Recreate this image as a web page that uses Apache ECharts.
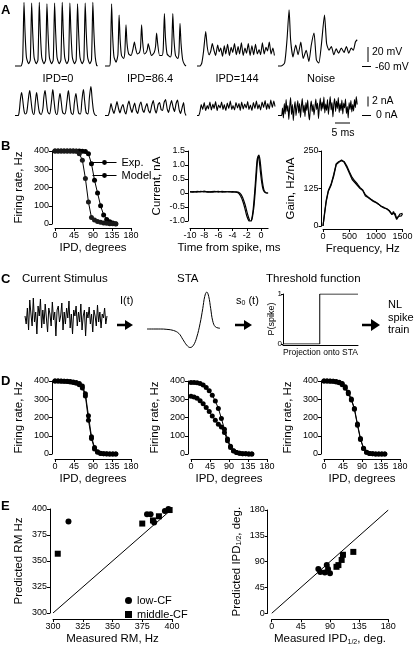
<!DOCTYPE html>
<html><head><meta charset="utf-8">
<script src="https://cdn.jsdelivr.net/npm/echarts@6/dist/echarts.min.js"></script>
<style>html,body{margin:0;padding:0;background:#fff}#c{width:416px;height:648px}</style>
</head><body><div id="c"></div><script>
// ---------- Panel A: example traces (time ms, mV / nA) ----------
const vmIPD0 = [[0,-60],[2.0,-60],[2.55,-52],[3.0,25],[3.35,-15],[3.8,-48],[4.5,-57],
 [5.1,-52],[5.55,24],[5.9,-15],[6.35,-48],[7.05,-57],
 [7.65,-52],[8.1,25],[8.45,-15],[8.9,-48],[9.6,-57],
 [10.2,-52],[10.65,23],[11.0,-15],[11.45,-48],[12.15,-57],
 [12.75,-52],[13.2,24],[13.55,-15],[14.0,-48],[14.7,-57],
 [15.3,-52],[15.75,25],[16.1,-15],[16.55,-48],[17.25,-57],
 [17.85,-52],[18.3,24],[18.65,-15],[19.1,-48],[19.8,-57],
 [20.4,-52],[20.85,23],[21.2,-15],[21.65,-48],[22.35,-57],
 [22.95,-52],[23.4,24],[23.75,-15],[24.2,-48],[24.9,-57],
 [25.5,-52],[25.95,25],[26.3,-15],[26.75,-48],[27.2,-59],[27.5,-60]];
const vmIPD86 = [[0,-60],[1.5,-60],[1.8,-52],[2.2,23],[2.55,-20],[3.0,-48],[3.7,-55],
 [4.3,-45],[4.7,8],[5.05,-25],[5.5,-46],[6.2,-50],
 [6.6,-42],[7.0,-5],[7.35,-30],[7.9,-44],[8.7,-46],
 [9.3,-38],[9.8,-28],[10.2,-36],[10.8,-44],[11.5,-42],
 [11.85,-35],[12.2,-5],[12.55,-28],[13.1,-44],[13.7,-42],
 [14.1,-38],[14.4,-30],[14.8,-36],[15.5,-46],[16.4,-42],
 [16.85,-34],[17.2,-16],[17.55,-30],[18.2,-46],[19.0,-46],
 [19.4,-38],[19.8,10],[20.15,-22],[20.7,-44],[21.8,-48],
 [22.2,-40],[22.6,10],[22.95,-22],[23.5,-46],[24.3,-50],
 [24.65,-42],[25.0,-3],[25.35,-30],[25.9,-52],[26.5,-58],[27.0,-60]];
const vmIPD144 = [[0,-60],[1.0,-60],[1.6,-56],[2.2,-40],[2.9,-14],[3.4,-34],[4.0,-45],[4.6,-40],[5.1,-30],[5.6,-38],[6.2,-46],[6.9,-32],[7.4,-41],[7.9,-36],[8.5,-47],[9.1,-33],[9.6,-44],[10.2,-31],[10.8,-46],[11.4,-35],[11.9,-42],[12.5,-30],[13.1,-45],[13.7,-34],[14.2,-44],[14.8,-29],[15.4,-46],[16.0,-36],[16.5,-43],[17.1,-30],[17.7,-46],[18.3,-33],[18.9,-45],[19.5,-31],[20.1,-44],[20.7,-38],[21.2,-45],[21.8,-29],[22.4,-44],[23.0,-35],[23.5,-40],[24.1,-28],[24.7,-44],[25.3,-36],[25.8,-46]];
const vmNoise = [[0,-60],[1.0,-60],[2.2,-56],[3.0,-25],[3.7,15],[4.2,-25],[5.0,-48],[5.9,-32],[6.7,-45],[7.6,-28],[8.4,-50],[9.4,-39],[10.3,-54],[11.1,-32],[12.0,-16],[12.8,-52],[13.6,-56],[14.4,-34],[15.5,8],[16.2,-30],[17.0,-39],[17.8,-34],[18.6,-45],[19.4,-37],[20.2,-43],[21.1,-36],[22.0,-42],[22.8,-34],[23.6,-43],[24.4,-36],[25.1,-39],[25.8,-28],[26.4,-25]];
const imIPD0 = [[0,0],[1.0,0],[1.4,0.8],[1.8,3.2],[2.2,4.6],[2.6,3.0],[3.0,1.0],[3.4,0.3],[3.9,0.6],[4.4,3.0],[4.9,5.0],[5.3,3.2],[5.8,0.8],[6.3,0.2],[6.8,2.8],[7.2,4.6],[7.6,2.8],[8.1,0.7],[8.7,0.2],[9.3,1.4],[9.6,3.6],[10.0,5.0],[10.4,3.2],[10.9,0.8],[11.5,0.3],[12.1,2.5],[12.6,5.2],[13.0,3.0],[13.5,0.6],[14.0,0.2],[14.6,3.0],[15.0,4.4],[15.4,2.8],[15.9,0.6],[16.6,0.3],[17.3,2.8],[17.8,5.0],[18.2,3.0],[18.7,0.6],[19.3,0.2],[19.8,2.6],[20.3,4.4],[20.7,2.6],[21.2,0.5],[21.8,0.3],[22.3,3.0],[22.8,5.2],[23.2,3.0],[23.7,0.6],[24.3,0.3],[24.8,3.6],[25.3,5.8],[25.7,3.4],[26.2,0.8],[26.7,0.1],[27.3,0]];
const imIPD86 = [[0,0],[1.0,0],[1.5,0.8],[2.0,2.4],[2.5,1.2],[3.0,0.4],[3.6,1.8],[4.0,2.8],[4.5,1.4],[5.0,0.5],[5.5,1.6],[6.0,2.2],[6.5,0.9],[7.0,0.3],[7.5,1.9],[8.0,2.9],[8.5,1.5],[9.0,0.6],[9.5,1.8],[9.9,2.5],[10.4,1.0],[10.9,0.4],[11.5,2.0],[12.0,2.7],[12.5,1.2],[13.0,0.6],[13.5,1.7],[14.0,2.4],[14.5,1.0],[15.0,0.5],[15.6,2.1],[16.1,3.0],[16.6,1.3],[17.1,0.5],[17.7,2.2],[18.2,2.6],[18.7,1.2],[19.2,1.0],[19.7,2.6],[20.2,3.2],[20.7,1.4],[21.2,0.6],[21.7,2.0],[22.2,3.0],[22.7,1.6],[23.2,0.8],[23.7,2.4],[24.2,3.1],[24.7,1.2],[25.2,0.4],[25.8,1.8],[26.2,2.6],[26.6,0.6],[27.0,0]];
const imIPD144 = [[0,0],[0.6,0],[1.0,0.8],[1.4,2.2],[1.9,1.2],[2.4,2.6],[2.9,1.0],[3.4,2.0],[3.8,1.3],[4.3,2.7],[4.8,1.1],[5.3,2.3],[5.7,1.4],[6.2,2.8],[6.7,1.0],[7.2,2.1],[7.7,1.5],[8.2,2.7],[8.7,1.2],[9.1,2.2],[9.6,1.0],[10.1,2.5],[10.6,1.4],[11.1,2.9],[11.6,1.2],[12.0,2.0],[12.5,1.1],[13.0,2.6],[13.5,1.5],[14.0,2.4],[14.4,1.0],[14.9,2.7],[15.4,1.3],[15.9,2.3],[16.4,1.5],[16.9,2.8],[17.3,1.2],[17.8,2.1],[18.3,1.0],[18.8,2.6],[19.3,1.4],[19.8,2.9],[20.3,1.3],[20.7,2.2],[21.2,1.1],[21.7,2.7],[22.2,1.6],[22.7,3.0],[23.2,1.2],[23.6,2.4],[24.1,1.3],[24.6,3.1],[25.1,1.6],[25.6,2.9],[26.0,1.8]];
const imNoise = [[0,0],[1.2,0],[1.5,1.5],[1.8,-0.5],[2.1,2.4],[2.4,0.3],[2.7,3.2],[3.0,0.8],[3.3,2.0],[3.6,-0.8],[3.9,1.8],[4.2,3.6],[4.5,0.2],[4.8,2.2],[5.1,-1.0],[5.4,1.4],[5.7,2.8],[6.0,0.0],[6.3,1.6],[6.6,3.0],[6.9,0.5],[7.2,2.4],[7.5,-0.4],[7.8,1.9],[8.1,3.4],[8.4,0.6],[8.7,2.1],[9.0,-0.2],[9.3,2.6],[9.6,1.0],[9.9,3.1],[10.2,0.4],[10.5,-0.9],[10.8,1.7],[11.1,2.9],[11.4,0.8],[11.7,2.2],[12.0,0.1],[12.3,1.5],[12.6,3.3],[12.9,1.2],[13.2,2.5],[13.5,-0.6],[13.8,1.8],[14.1,3.5],[14.4,0.9],[14.7,2.7],[15.0,1.3],[15.3,3.7],[15.6,0.5],[15.9,2.3],[16.2,1.0],[16.5,3.2],[16.8,0.2],[17.1,2.0],[17.4,3.8],[17.7,1.1],[18.0,2.6],[18.3,-0.3],[18.6,2.2],[18.9,3.4],[19.2,0.8],[19.5,2.9],[19.8,1.4],[20.1,3.6],[20.4,0.6],[20.7,2.4],[21.0,1.0],[21.3,3.1],[21.6,0.3],[21.9,2.5],[22.2,1.5],[22.5,3.3],[22.8,0.4],[23.1,1.8],[23.4,-0.5],[23.7,2.6],[24.0,1.2],[24.3,3.0],[24.6,0.7],[24.9,2.2],[25.2,0.9],[25.5,3.2],[25.8,1.6],[26.1,3.8],[26.4,2.2]];
const traceLabels = ['IPD=0','IPD=86.4','IPD=144','Noise'];

// ---------- Panel B ----------
const ipdDeg = [0,7.2,14.4,21.6,28.8,36,43.2,50.4,57.6,64.8,72,79.2,86.4,93.6,100.8,108,115.2,122.4,129.6,136.8,144];
const bExpRate   = [400,400,400,400,400,400,400,400,400,399,397,385,330,240,170,100,50,25,12,6,2];
const bModelRate = [400,400,400,400,400,400,400,399,385,350,250,120,35,22,14,9,6,4,2,1,0];
const staExp = [[-10,0.05],[-9.5,0.03],[-9,0.06],[-8.5,0.04],[-8,0.07],[-7.5,0.03],[-7,0.05],[-6.5,0.06],[-6,0.03],[-5.5,0.06],[-5,0.04],[-4.5,0.05],[-4,0.03],[-3.5,0.04],[-3.0,0.0],[-2.6,-0.15],[-2.2,-0.45],[-1.9,-0.75],[-1.6,-0.97],[-1.4,-1.0],[-1.2,-0.85],[-1.0,-0.5],[-0.8,0.1],[-0.6,0.8],[-0.45,1.25],[-0.3,1.35],[-0.15,1.2],[0,0.85],[0.2,0.4],[0.4,0.12],[0.6,0.03],[0.8,0.0],[1.0,0.0]];
const staModel = [[-10,0.04],[-9.5,0.05],[-9,0.03],[-8.5,0.06],[-8,0.04],[-7.5,0.05],[-7,0.03],[-6.5,0.04],[-6,0.06],[-5.5,0.03],[-5,0.05],[-4.5,0.04],[-4,0.05],[-3.5,0.03],[-3.1,-0.02],[-2.7,-0.2],[-2.3,-0.52],[-2.0,-0.82],[-1.7,-1.0],[-1.5,-1.05],[-1.3,-0.92],[-1.1,-0.58],[-0.9,0.0],[-0.7,0.7],[-0.55,1.18],[-0.4,1.3],[-0.25,1.15],[-0.1,0.8],[0.1,0.38],[0.3,0.12],[0.5,0.03],[0.8,0.0],[1.0,0.0]];
const gainExp = [[0,0],[30,40],[60,80],[100,115],[150,135],[200,165],[250,205],[300,212],[350,220],[400,212],[450,195],[500,175],[550,155],[600,145],[650,135],[700,125],[750,118],[800,100],[850,95],[900,88],[950,82],[1000,78],[1050,72],[1100,65],[1150,60],[1200,58],[1250,52],[1300,38],[1330,48],[1360,45],[1390,22],[1420,30],[1450,40],[1480,36],[1500,42]];
const gainModel = [[0,0],[30,45],[60,85],[100,118],[150,138],[200,170],[250,208],[300,215],[350,218],[400,215],[450,200],[500,180],[550,162],[600,150],[650,140],[700,128],[750,120],[800,104],[850,97],[900,90],[950,84],[1000,79],[1050,73],[1100,66],[1150,62],[1200,57],[1250,50],[1300,40],[1330,46],[1360,42],[1390,25],[1420,32],[1450,38],[1480,34],[1500,40]];

// ---------- Panel C ----------
const stimNoise = [0.1,-0.3,0.5,-0.6,0.9,0.2,-0.4,1.0,-0.2,0.3,-0.8,0.6,0.1,0.95,-0.5,0.4,-0.3,0.7,0.0,-0.7,0.5,0.2,-0.4,0.8,-0.1,0.3,-0.9,0.4,0.6,-0.2,0.1,0.75,-0.6,0.3,-0.3,0.5,0.0,0.85,-0.5,0.2,-0.8,0.4,0.1,0.6,-0.4,0.3,-0.2,0.7,-0.6,0.1,0.4,-0.9,0.3,0.0,0.55,-0.3,0.2,-0.7,0.4,0.1,-0.4,0.65,-0.2,0.3,-0.5,0.2,0.0,0.5,-0.3,0.1];
const staShape = [[-10,0],[-8,0],[-7,-0.01],[-6,-0.04],[-5.2,-0.12],[-4.6,-0.28],[-4.0,-0.44],[-3.5,-0.5],[-3.0,-0.44],[-2.5,-0.22],[-2.0,0.15],[-1.6,0.55],[-1.3,0.88],[-1.0,1.0],[-0.7,0.88],[-0.4,0.55],[-0.1,0.22],[0.3,0.06],[1,0.02]];
const thrX = [0,0.49,0.49,1];
const thrY = [0,0,1,1];

// ---------- Panel D ----------
const d1Exp   = [400,400,400,399,398,397,395,392,386,372,330,210,95,35,12,4,2,1,0,0,0];
const d1Model = [400,400,399,398,397,395,392,388,380,362,318,185,85,28,9,3,1,0,0,0,0];
const d2Exp   = [392,392,390,386,378,365,347,322,290,250,195,135,82,42,18,8,4,2,1,0,0];
const d2Model = [316,313,305,292,275,255,233,208,185,163,148,118,72,36,16,8,4,2,1,0,0];
const d3Exp   = [400,400,400,399,397,393,386,368,338,302,250,165,85,32,10,3,1,0,0,0,0];
const d3Model = [400,400,399,398,395,390,380,360,330,296,245,158,80,30,9,3,1,0,0,0,0];

// ---------- Panel E ----------
const eLowMeasRM  = [313,379,382,385,394,397];
const eLowPredRM  = [388,395,395,387,398,400];
const eMidMeasRM  = [304,375,384,389,398];
const eMidPredRM  = [357,386,389,393,399];
const eLowMeasIPD = [72,75,82,85,87,90];
const eLowPredIPD = [77,72,71,84,77,70];
const eMidMeasIPD = [100,103,108,110,126];
const eMidPredIPD = [81,84,93,102,107];
const diagRM  = [300,400];
const diagIPD = [0,180];

const FONT = '"Liberation Sans", Arial, sans-serif';
const zip = (xs, ys) => xs.map((x,i)=>[x, ys[i]]);

const grids = [], xAxes = [], yAxes = [], series = [];
function addGrid(g){ grids.push(Object.assign({outerBoundsMode:'none', containLabel:false}, g)); return grids.length-1; }
function hid(gi,min,max){ return {gridIndex:gi,type:'value',min,max,show:false}; }
const lineS = {color:'#000', width:1};
const plain = v => String(v);
function ax(gi, min, max, interval, offset, name, nameGap, extra){
  return Object.assign({
    gridIndex:gi, type:'value', min, max, interval, offset,
    axisLine:{show:true,onZero:false,lineStyle:lineS},
    axisTick:{show:true,length:3,inside:false,lineStyle:lineS},
    axisLabel:{color:'#000',fontSize:9,fontFamily:FONT,margin:3,formatter:plain},
    splitLine:{show:false},
    name, nameLocation:'middle', nameGap, nameMoveOverlap:false,
    nameTextStyle:{color:'#000',fontSize:11.5,fontFamily:FONT}
  }, extra||{});
}

// Panel A grids
const aLefts = [15,105,197,278];
const vmTraces = [vmIPD0, vmIPD86, vmIPD144, vmNoise];
const imTraces = [imIPD0, imIPD86, imIPD144, imNoise];
vmTraces.forEach((tr,i)=>{
  const gi = addGrid({left:aLefts[i], top:0, width:82.5, height:67.5});
  xAxes.push(hid(gi,0,27.5)); yAxes.push(hid(gi,-62,28));
  series.push({type:'line', xAxisIndex:gi, yAxisIndex:gi, data:tr, symbol:'none', smooth:0.2, lineStyle:{color:'#000',width:1.1}});
});
imTraces.forEach((tr,i)=>{
  const gi = addGrid({left:aLefts[i], top:85.5, width:82.5, height:40});
  xAxes.push(hid(gi,0,27.5)); yAxes.push(hid(gi,-2,6));
  series.push({type:'line', xAxisIndex:gi, yAxisIndex:gi, data:tr, symbol:'none', smooth:i===0?0.35:0.15, lineStyle:{color:'#000',width:1.1}});
});

// Panel B
let gi = addGrid({left:55, top:151, width:76, height:73});
xAxes.push(ax(gi,0,180,45,4,'IPD, degrees',14));
yAxes.push(ax(gi,0,400,100,3,'Firing rate, Hz',27));
series.push({name:'Exp.', type:'line', xAxisIndex:gi, yAxisIndex:gi, data:zip(ipdDeg,bExpRate), symbol:'circle', symbolSize:5, itemStyle:{color:'#000'}, lineStyle:lineS});
series.push({name:'Model', type:'line', xAxisIndex:gi, yAxisIndex:gi, data:zip(ipdDeg,bModelRate), symbol:'circle', symbolSize:5, itemStyle:{color:'#1a1a1a'}, lineStyle:lineS});

gi = addGrid({left:190, top:151, width:78.1, height:70});
xAxes.push(ax(gi,-10,1,2,7,'Time from spike, ms',14,{axisLabel:{color:'#000',fontSize:9,fontFamily:FONT,margin:3,customValues:[-10,-8,-6,-4,-2,0]}, axisTick:{show:true,length:3,lineStyle:lineS,customValues:[-10,-8,-6,-4,-2,0]}}));
yAxes.push(ax(gi,-1,1.5,0.5,2,'Current, nA',25,{axisLabel:{color:'#000',fontSize:9,fontFamily:FONT,margin:3,formatter:v=>v===0?'0':v.toFixed(1)}}));
series.push({type:'line', xAxisIndex:gi, yAxisIndex:gi, data:staExp, symbol:'none', smooth:0.3, lineStyle:{color:'#000',width:1.2}});
series.push({type:'line', xAxisIndex:gi, yAxisIndex:gi, data:staModel, symbol:'none', smooth:0.3, lineStyle:{color:'#000',width:1.2}});

gi = addGrid({left:323, top:151, width:79.5, height:75});
xAxes.push(ax(gi,0,1500,500,3,'Frequency, Hz',14));
yAxes.push(ax(gi,0,250,125,1.5,'Gain, Hz/nA',25));
series.push({type:'line', xAxisIndex:gi, yAxisIndex:gi, data:gainExp, symbol:'none', lineStyle:{color:'#000',width:1.2}});
series.push({type:'line', xAxisIndex:gi, yAxisIndex:gi, data:gainModel, symbol:'none', lineStyle:{color:'#000',width:1.2}});

// Panel C
gi = addGrid({left:25, top:298, width:82, height:40});
xAxes.push(hid(gi,0,stimNoise.length-1)); yAxes.push(hid(gi,-1,1));
series.push({type:'line', xAxisIndex:gi, yAxisIndex:gi, data:stimNoise.map((v,i)=>[i,v]), symbol:'none', lineStyle:lineS});

gi = addGrid({left:147, top:292, width:73, height:55.5});
xAxes.push(hid(gi,-10,1)); yAxes.push(hid(gi,-0.5,1));
series.push({type:'line', xAxisIndex:gi, yAxisIndex:gi, data:staShape, symbol:'none', smooth:0.4, lineStyle:lineS});

gi = addGrid({left:283, top:294, width:75, height:50});
xAxes.push(ax(gi,0,1,1,1.5,'Projection onto STA',3,{axisTick:{show:false},axisLabel:{show:false},nameTextStyle:{color:'#000',fontSize:8.5,fontFamily:FONT}}));
yAxes.push(ax(gi,0,1,1,0,'P(spike)',7,{axisTick:{show:true,length:2,lineStyle:lineS},axisLabel:{color:'#000',fontSize:8,fontFamily:FONT,margin:1},nameTextStyle:{color:'#000',fontSize:9,fontFamily:FONT}}));
series.push({type:'line', xAxisIndex:gi, yAxisIndex:gi, data:zip(thrX,thrY), symbol:'none', lineStyle:lineS});

// Panel D
const dLefts = [55,191,324];
const dSets = [[d1Exp,d1Model],[d2Exp,d2Model],[d3Exp,d3Model]];
dSets.forEach((set,k)=>{
  const g = addGrid({left:dLefts[k], top:381, width:76, height:73});
  xAxes.push(ax(g,0,180,45,5,'IPD, degrees',14));
  yAxes.push(ax(g,0,400,100,3,'Firing rate, Hz',27));
  set.forEach(arr=>series.push({type:'line', xAxisIndex:g, yAxisIndex:g, data:zip(ipdDeg,arr), symbol:'circle', symbolSize:5, itemStyle:{color:'#000'}, lineStyle:lineS}));
});

// Panel E
gi = addGrid({left:53, top:509, width:119, height:104});
xAxes.push(ax(gi,300,400,25,6,'Measured RM, Hz',14));
yAxes.push(ax(gi,300,400,25,3,'Predicted RM Hz',25));
series.push({type:'line', xAxisIndex:gi, yAxisIndex:gi, data:zip(diagRM,diagRM), symbol:'none', lineStyle:lineS});
series.push({name:'low-CF', type:'scatter', xAxisIndex:gi, yAxisIndex:gi, data:zip(eLowMeasRM,eLowPredRM), symbol:'circle', symbolSize:6, itemStyle:{color:'#000',opacity:1}});
series.push({name:'middle-CF', type:'scatter', xAxisIndex:gi, yAxisIndex:gi, data:zip(eMidMeasRM,eMidPredRM), symbol:'rect', symbolSize:6, itemStyle:{color:'#000',opacity:1}});

gi = addGrid({left:271.7, top:510, width:116.6, height:103.3});
const subRich = {n:{fontSize:11.5,fontFamily:FONT,color:'#000'}, s:{fontSize:7,fontFamily:FONT,color:'#000',verticalAlign:'bottom',lineHeight:10}};
xAxes.push(ax(gi,0,180,45,6,'{n|Measured IPD}{s|1/2}{n|, deg.}',14,{nameTextStyle:{rich:subRich}}));
yAxes.push(ax(gi,0,180,45,4,'{n|Predicted IPD}{s|1/2}{n|, deg.}',25,{nameTextStyle:{rich:subRich}}));
series.push({type:'line', xAxisIndex:gi, yAxisIndex:gi, data:zip(diagIPD,diagIPD), symbol:'none', lineStyle:lineS});
series.push({name:'low-CF', type:'scatter', xAxisIndex:gi, yAxisIndex:gi, data:zip(eLowMeasIPD,eLowPredIPD), symbol:'circle', symbolSize:6, itemStyle:{color:'#000',opacity:1}});
series.push({name:'middle-CF', type:'scatter', xAxisIndex:gi, yAxisIndex:gi, data:zip(eMidMeasIPD,eMidPredIPD), symbol:'rect', symbolSize:6, itemStyle:{color:'#000',opacity:1}});

// ---------- Graphic annotations ----------
const T = (x,y,text,size,opt)=>Object.assign({type:'text',x,y,style:Object.assign({text,fill:'#000',font:`${size}px ${FONT}`,textAlign:'left',textVerticalAlign:'middle'},opt||{})});
const L = (x1,y1,x2,y2,w)=>({type:'line',shape:{x1,y1,x2,y2},style:{stroke:'#000',lineWidth:w||1}});
const arrow = (x0,y,len,head,hh)=>({type:'polygon',shape:{points:[[x0,y-1.3],[x0+len-head,y-1.3],[x0+len-head,y-hh],[x0+len,y],[x0+len-head,y+hh],[x0+len-head,y+1.3],[x0,y+1.3]]},style:{fill:'#000'}});
const bold = (x,y,t)=>T(x,y,t,13,{font:`bold 13px ${FONT}`});
const graphic = [
  bold(1,10,'A'), bold(1,146,'B'), bold(1,279,'C'), bold(1,381,'D'), bold(1,506,'E'),
  T(58,79,traceLabels[0],11,{textAlign:'center'}), T(150,79,traceLabels[1],11,{textAlign:'center'}),
  T(237,79,traceLabels[2],11,{textAlign:'center'}), T(321,79,traceLabels[3],11,{textAlign:'center'}),
  L(368,47,368,62), T(372,52,'20 mV',10.5), L(362,66.5,371,66.5), T(375,67,'-60 mV',10.5),
  L(368,96.5,368,106.5), T(372,101,'2 nA',10.5), L(362,115.5,371,115.5), T(376,115.5,'0 nA',10.5),
  L(335,123,350,123), T(343,133,'5 ms',10.5,{textAlign:'center'}),
  T(22,279,'Current Stimulus',11.5), T(177,279,'STA',11.5), T(266,279,'Threshold function',11.5),
  T(120,301,'I(t)',11), arrow(117,325,16,8,5),
  {type:'text',x:236,y:301,style:{rich:{a:{font:`11px ${FONT}`,fill:'#000'},b:{font:`7px ${FONT}`,fill:'#000',verticalAlign:'bottom'}},text:'{a|s}{b|0}{a| (t)}',textVerticalAlign:'middle'}},
  arrow(235,325,17,8,5), arrow(362,325,18,9,6),
  T(388,305,'NL',11), T(388,318,'spike',11), T(388,330,'train',11)
];

const chart = echarts.init(document.getElementById('c'), null, {renderer:'canvas', width:416, height:648});
chart.setOption({
  animation:false, backgroundColor:'#fff',
  textStyle:{fontFamily:FONT},
  grid:grids, xAxis:xAxes, yAxis:yAxes, series,
  legend:[
    {data:['Exp.','Model'], left:87, top:152, orient:'vertical', itemWidth:24, itemHeight:6, itemGap:2,
     itemStyle:{color:'#000',borderWidth:0}, lineStyle:{color:'#000',width:1},
     textStyle:{color:'#000',fontSize:11,lineHeight:11,fontFamily:FONT}},
    {data:[{name:'low-CF',icon:'circle'},{name:'middle-CF',icon:'rect'}], left:120, top:590, orient:'vertical', itemWidth:7, itemHeight:7, itemGap:3,
     itemStyle:{color:'#000',borderWidth:0,opacity:1},
     textStyle:{color:'#000',fontSize:11,lineHeight:9,fontFamily:FONT}}
  ],
  graphic
});
</script></body></html>
